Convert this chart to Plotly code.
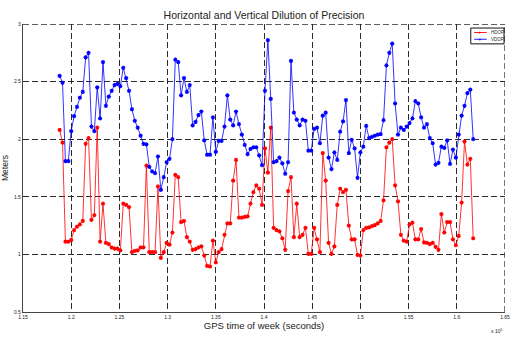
import plotly.graph_objects as go

# GPS epochs: fixed sampling interval over the time of week (seconds)
TOW_START = 118800
TOW_STEP = 300

hdop = [
    2.08, 1.97, 1.11, 1.11, 1.125, 1.21, 1.24, 1.26, 1.29, 1.96,
    2.01, 1.30, 1.34, 2.10, 1.11, 1.44, 1.10, 1.09, 1.06, 1.05,
    1.05, 1.035, 1.44, 1.43, 1.41, 1.02, 1.03, 1.035, 1.06, 1.06,
    1.77, 1.02, 1.02, 1.02, 1.59, 0.97, 1.02, 1.10, 1.085, 1.19,
    1.69, 1.67, 1.28, 1.29, 1.15, 1.11, 1.04, 1.045, 1.06, 1.07,
    0.99, 0.90, 0.895, 1.12, 0.93, 1.02, 1.045, 1.17, 1.27, 1.27,
    1.64, 1.82, 1.32, 1.32, 1.325, 1.33, 1.44, 1.54, 1.60, 1.57,
    1.43, 1.92, 1.71, 2.10, 1.23, 1.21, 1.20, 1.14, 1.04, 1.55,
    1.67, 1.15, 1.44, 1.15, 1.17, 1.23, 1.005, 1.005, 1.23, 1.13,
    1.02, 1.88, 1.64, 1.10, 1.005, 1.07, 1.43, 1.57, 1.54, 1.56,
    1.25, 1.13, 1.13, 0.995, 0.99, 1.21, 1.23, 1.235, 1.245, 1.255,
    1.27, 1.29, 1.47, 1.93, 1.97, 2.00, 1.60, 1.46, 1.17, 1.12,
    1.11, 1.26, 1.275, 1.13, 1.13, 1.22, 1.105, 1.10, 1.09, 1.10,
    1.065, 1.04, 1.35, 1.19, 1.28, 1.28, 1.13, 1.08, 1.16, 1.45,
    1.98, 1.78, 1.83, 1.14,
]

vdop = [
    2.55, 2.49, 1.81, 1.81, 2.07, 2.20, 2.28, 2.36, 2.41, 2.71,
    2.75, 2.11, 2.07, 2.45, 2.18, 2.67, 2.29, 2.37, 2.42, 2.47,
    2.48, 2.46, 2.62, 2.53, 2.42, 2.26, 2.16, 2.10, 2.03, 1.96,
    1.955, 1.76, 1.72, 1.705, 1.85, 1.56, 1.67, 1.80, 1.83, 2.00,
    2.69, 2.67, 2.38, 2.53, 2.41, 2.47, 2.12, 2.15, 2.21, 2.24,
    1.99, 1.865, 1.865, 2.19, 1.89, 1.985, 1.985, 2.11, 2.38, 2.17,
    2.12, 2.24, 2.13, 2.04, 1.95, 1.87, 1.915, 1.93, 1.93, 1.86,
    1.775, 2.42, 2.86, 2.35, 1.80, 1.81, 1.84, 1.79, 1.70, 1.80,
    2.68, 2.23, 2.17, 2.12, 2.17, 2.16, 1.90, 1.90, 2.09, 2.10,
    1.965, 2.205, 2.23, 1.84, 1.74, 1.885, 1.82, 2.065, 2.155, 2.34,
    1.88, 1.995, 1.92, 1.665, 1.885, 1.935, 2.115, 2.01, 2.02, 2.03,
    2.04, 2.045, 2.165, 2.64, 2.75, 2.83, 2.31, 2.04, 2.10, 2.08,
    2.11, 2.14, 2.18, 2.33, 2.31, 2.19, 2.10, 2.13, 2.01, 1.965,
    1.78, 1.795, 1.935, 1.925, 1.99, 1.785, 1.91, 1.84, 2.04, 2.205,
    2.29, 2.40, 2.43, 2.00,
]

x_tick_vals = [115000, 120000, 125000, 130000, 135000, 140000,
               145000, 150000, 155000, 160000, 165000]
x_tick_text = ["1.15", "1.2", "1.25", "1.3", "1.35", "1.4",
               "1.45", "1.5", "1.55", "1.6", "1.65"]
y_tick_vals = [0.5, 1, 1.5, 2, 2.5, 3]
y_tick_text = ["0.5", "1", "1.5", "2", "2.5", "3"]

series_names = ["HDOP", "VDOP"]
series_colors = ["#ff0000", "#0000ff"]

tow = [TOW_START + TOW_STEP * i for i in range(len(hdop))]

FONT = "Liberation Sans, Arial, sans-serif"
TXT = "#222222"
GRID = "#2b2b2b"
DASH = "6px,3px"

fig = go.Figure()
for name, vals, col in zip(series_names, [hdop, vdop], series_colors):
    fig.add_trace(go.Scatter(
        x=tow, y=vals, name=name, mode="lines+markers", showlegend=False,
        line=dict(color=col, width=0.8),
        marker=dict(symbol="asterisk-open", size=3.5,
                    line=dict(color=col, width=1.1)),
    ))

grid = dict(showgrid=True, gridcolor=GRID, gridwidth=1.3, griddash=DASH,
            automargin=False)

fig.update_xaxes(
    range=[x_tick_vals[0], x_tick_vals[-1]], tickvals=x_tick_vals,
    ticktext=x_tick_text,
    tickfont=dict(size=5, color=TXT, family=FONT),
    showline=True, linecolor="#444", linewidth=1.2, mirror=False,
    ticks="", zeroline=False,
    title=dict(text="GPS time of week (seconds)",
               font=dict(size=9.5, color=TXT, family=FONT), standoff=2),
    **grid,
)
fig.update_yaxes(
    range=[y_tick_vals[0], y_tick_vals[-1]], tickvals=y_tick_vals,
    ticktext=y_tick_text,
    tickfont=dict(size=5, color=TXT, family=FONT),
    showline=True, linecolor="#444", linewidth=1.2, mirror=False,
    ticks="", zeroline=False,
    title=dict(text="Meters", font=dict(size=8.5, color=TXT, family=FONT),
               standoff=5),
    **grid,
)

# dashed grid lines on the top and right edges of the axes box
fig.add_shape(type="line", xref="paper", yref="y", x0=0, x1=1,
              y0=y_tick_vals[-1], y1=y_tick_vals[-1],
              line=dict(color=GRID, width=1.3, dash=DASH))
fig.add_shape(type="line", xref="x", yref="paper",
              x0=x_tick_vals[-1], x1=x_tick_vals[-1], y0=0, y1=1,
              line=dict(color=GRID, width=1.3, dash=DASH))

# axis exponent
fig.add_annotation(
    text="x 10<sup>5</sup>", xref="paper", yref="paper", x=0.983, y=-0.05,
    xanchor="center", yanchor="top", showarrow=False,
    font=dict(size=5, color=TXT, family=FONT),
)

# compact legend box in the upper right corner
lg_x0, lg_x1, lg_y0, lg_y1 = 0.929, 0.998, 0.931, 0.986
fig.add_shape(type="rect", xref="paper", yref="paper",
              x0=lg_x0, x1=lg_x1, y0=lg_y0, y1=lg_y1,
              line=dict(color="#111", width=1), fillcolor="white", layer="above")
for k, (name, col) in enumerate(zip(series_names, series_colors)):
    yy = 0.9705 - k * 0.0235
    fig.add_shape(type="line", xref="paper", yref="paper",
                  x0=0.936, x1=0.962, y0=yy, y1=yy,
                  line=dict(color=col, width=0.9), layer="above")
    fig.add_annotation(text="+", xref="paper", yref="paper", x=0.949, y=yy,
                       xanchor="center", yanchor="middle", showarrow=False,
                       font=dict(size=6, color=col, family=FONT))
    fig.add_annotation(text=name, xref="paper", yref="paper", x=0.966, y=yy,
                       xanchor="left", yanchor="middle", showarrow=False,
                       font=dict(size=4.5, color=TXT, family=FONT))

fig.update_layout(
    width=524, height=338,
    margin=dict(l=23, r=19, t=24, b=26),
    paper_bgcolor="white", plot_bgcolor="white",
    title=dict(text="Horizontal and Vertical Dilution of Precision",
               x=0.5, xref="paper", xanchor="center", y=0.955, yanchor="middle",
               font=dict(size=10.5, color=TXT, family=FONT)),
)

fig.write_html("out.html")
